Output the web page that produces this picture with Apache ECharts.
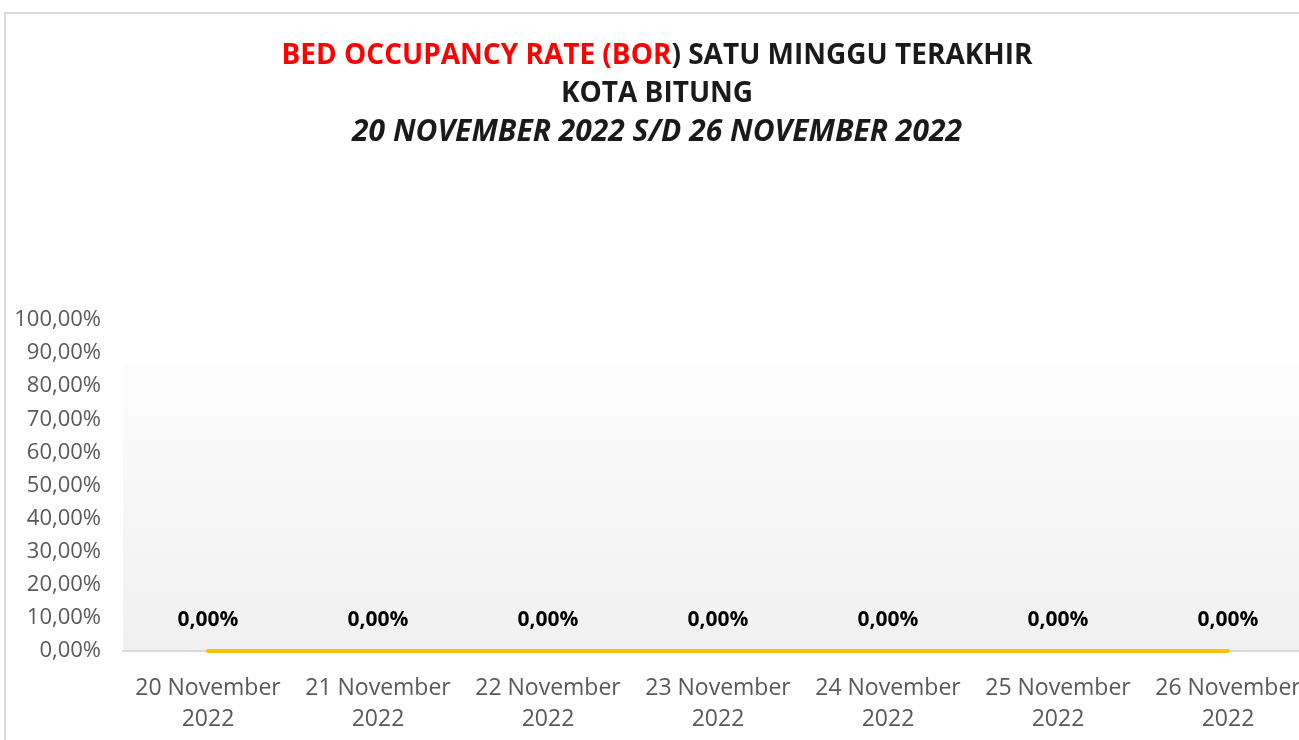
<!DOCTYPE html>
<html>
<head>
<meta charset="utf-8">
<script src="https://cdn.jsdelivr.net/npm/echarts@6.0.0/dist/echarts.min.js"></script>
<style>
  html, body { margin: 0; padding: 0; background: #fff; overflow: hidden; }
  #frame { position: absolute; left: 4px; top: 12px; width: 1400px; height: 800px; border-left: 2px solid #d9d9d9; border-top: 2px solid #d9d9d9; }
  #chart { position: absolute; left: 0; top: 0; width: 1330px; height: 740px; }
</style>
</head>
<body>
<div id="frame"></div>
<div id="chart"></div>
<script>
// tanggal (kategori sumbu x)
const categories = [
  '20 November\n2022',
  '21 November\n2022',
  '22 November\n2022',
  '23 November\n2022',
  '24 November\n2022',
  '25 November\n2022',
  '26 November\n2022',
];
// BOR per hari (fraksi)
const borValues = [0, 0, 0, 0, 0, 0, 0];

const pct = (v) => (v * 100).toFixed(2).replace('.', ',') + '%';

const chart = echarts.init(document.getElementById('chart'));
const option = {
  animation: false,
  title: {
    left: 652,
    textAlign: 'center',
    top: 32,
    text: '{red|BED OCCUPANCY RATE (BOR}{blk|) SATU MINGGU TERAKHIR}\n{blk|KOTA BITUNG}\n{it|20 NOVEMBER 2022 S/D 26 NOVEMBER 2022}',
    textStyle: {
      rich: {
        red: { color: '#ff0000', fontFamily: 'Open Sans', fontWeight: 'bold', fontSize: 28, lineHeight: 38 },
        blk: { color: '#1a1a1a', fontFamily: 'Open Sans', fontWeight: 'bold', fontSize: 28, lineHeight: 38 },
        it: { color: '#1a1a1a', fontFamily: 'Open Sans', fontWeight: 'bold', fontStyle: 'italic', fontSize: 30, lineHeight: 38 },
      },
    },
  },
  grid: {
    left: 123,
    right: 17,
    top: 320,
    bottom: 89,
    containLabel: false,
    outerBoundsMode: 'none',
    show: true,
    borderWidth: 0,
    backgroundColor: {
      type: 'linear', x: 0, y: 0, x2: 0, y2: 1,
      colorStops: [
        { offset: 0, color: '#ffffff' },
        { offset: 0.129, color: '#ffffff' },
        { offset: 0.13, color: '#fdfdfd' },
        { offset: 1, color: '#f0f0f0' },
      ],
    },
  },
  xAxis: {
    type: 'category',
    data: categories,
    boundaryGap: true,
    axisTick: { show: false },
    axisLine: { lineStyle: { color: '#d9d9d9', width: 2 } },
    axisLabel: { color: '#595959', fontFamily: 'Open Sans', fontSize: 23, lineHeight: 31, margin: 22, interval: 0 },
  },
  yAxis: {
    type: 'value',
    min: 0,
    max: 1,
    interval: 0.1,
    axisLine: { show: false },
    axisTick: { show: false },
    splitLine: { show: false },
    axisLabel: { color: '#595959', fontFamily: 'Open Sans', fontSize: 22, margin: 22, formatter: pct },
  },
  series: [{
    name: 'BOR',
    type: 'line',
    data: borValues,
    showSymbol: true,
    symbol: 'circle',
    symbolSize: 0,
    itemStyle: { color: '#ffc000' },
    lineStyle: { color: '#ffc000', width: 4, cap: 'round' },
    label: {
      show: true,
      position: 'top',
      distance: 20,
      color: '#000',
      fontFamily: 'Open Sans',
      fontWeight: 'bold',
      fontSize: 21,
      formatter: (p) => pct(p.value),
    },
  }],
};
chart.setOption(option);
</script>
</body>
</html>
